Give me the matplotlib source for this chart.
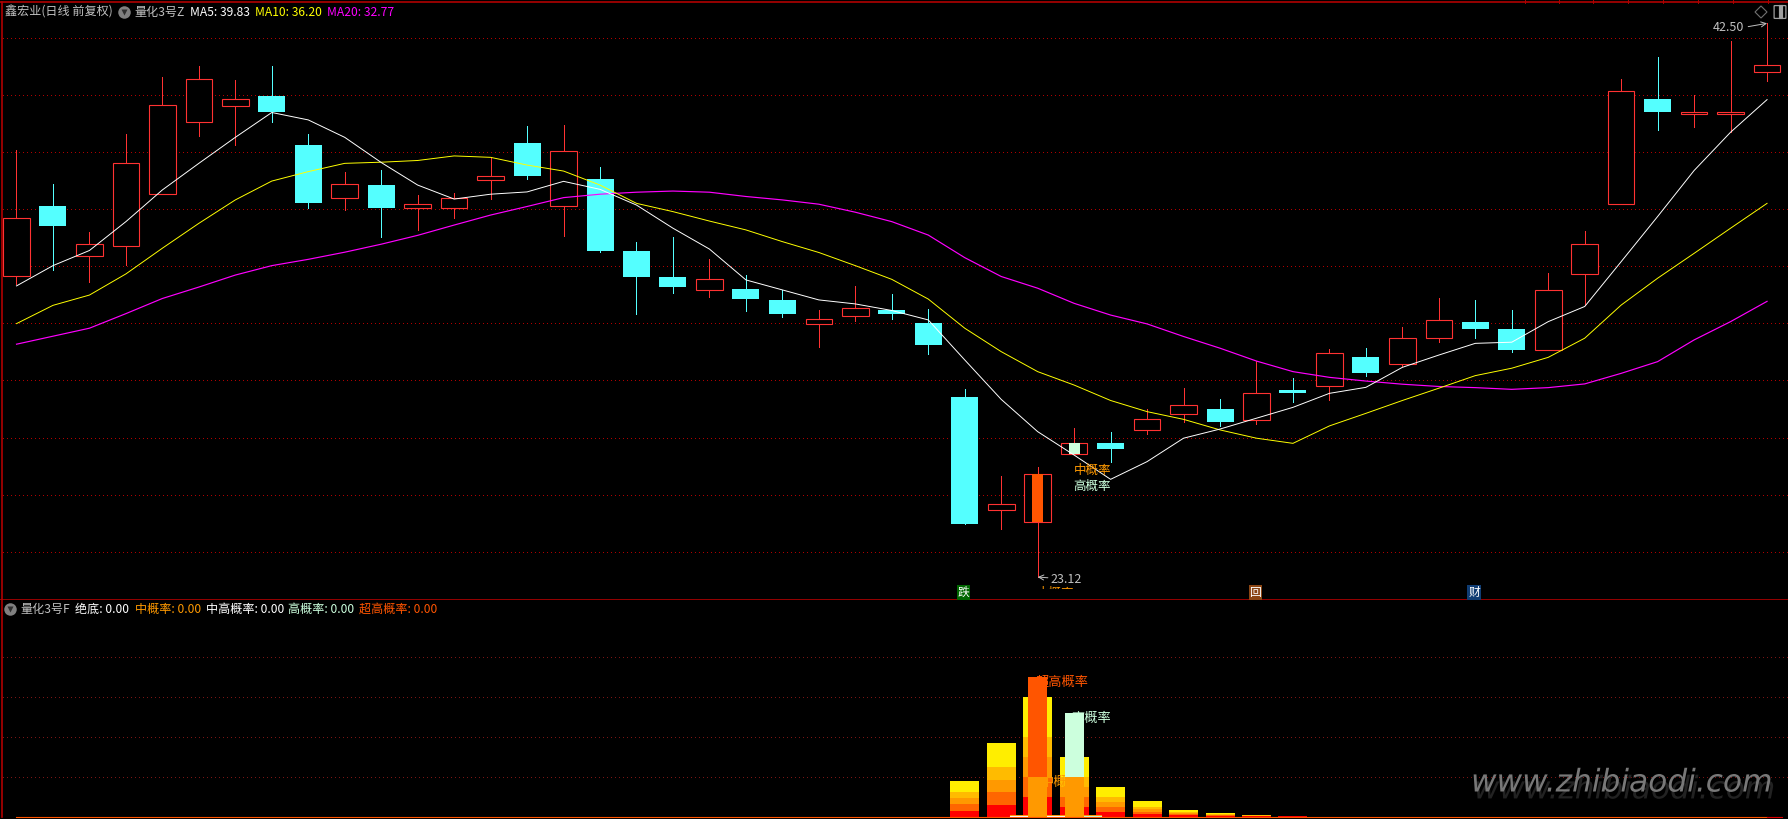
import numpy as np
import matplotlib
matplotlib.use('Agg')
import matplotlib.pyplot as plt
import matplotlib.patheffects as pe
from matplotlib.lines import Line2D
from matplotlib.patches import Polygon, FancyBboxPatch
from matplotlib.transforms import Bbox

plt.rcParams['font.family'] = ['Noto Sans CJK SC', 'DejaVu Sans']

# daily candles
highs = [38.07,36.88,35.20,38.63,40.62,41.01,40.52,41.01,38.63,37.30,
         37.37,36.49,36.56,37.81,38.91,38.94,37.47,34.85,35.02,34.25,
         33.69,33.17,32.47,33.31,33.03,32.50,29.70,26.66,26.97,28.34,
         28.20,28.99,29.74,29.35,30.68,30.09,31.10,31.14,31.87,32.89,
         32.82,32.47,33.75,35.23,40.55,41.32,39.99,41.88,42.50]
opens = [33.67,36.11,34.37,34.72,36.51,39.03,39.62,39.96,38.24,36.37,
         36.84,36.02,36.02,37.03,38.31,36.12,37.05,34.53,33.62,33.18,
         33.20,32.82,31.96,32.24,32.47,32.01,29.42,25.48,25.06,27.41,
         27.81,28.28,28.81,29.00,28.61,29.67,29.82,30.82,30.59,31.47,
         32.05,31.80,31.05,33.74,36.16,39.85,39.31,39.31,40.81]
closes = [35.68,35.41,34.77,37.60,39.63,40.54,39.84,39.40,36.21,36.87,
          36.04,36.17,36.38,37.15,37.16,38.02,34.53,33.62,33.27,33.54,
          32.85,32.33,32.14,32.53,32.33,31.24,24.98,25.67,26.72,27.80,
          27.60,28.64,29.13,28.55,29.55,29.56,30.95,30.26,31.48,32.11,
          31.80,31.07,33.16,34.77,40.12,39.40,39.39,39.39,41.03]
lows = [33.38,33.85,33.45,34.04,36.51,38.56,38.24,39.05,36.04,35.97,
        35.02,35.27,35.69,36.35,37.05,35.06,34.50,32.33,33.06,32.92,
        32.43,32.22,31.17,32.08,32.15,30.93,24.98,24.80,23.12,27.41,
        27.13,28.13,28.53,28.41,28.49,29.25,29.32,30.16,30.51,31.33,
        31.49,31.00,31.05,32.64,36.16,38.77,38.87,38.70,40.48]

ma5 = [33.31,34.02,34.55,35.56,36.67,37.60,38.51,39.38,39.12,38.51,
       37.63,36.84,36.35,36.52,36.60,36.97,36.69,36.14,35.33,34.60,
       33.52,33.17,32.82,32.68,32.45,32.12,30.72,29.34,28.21,27.39,
       26.54,27.16,27.98,28.30,28.68,29.06,29.55,29.76,30.46,30.89,
       31.30,31.34,32.06,32.59,34.16,35.74,37.35,38.69,39.83]
ma10 = [31.99,32.63,32.99,33.73,34.63,35.50,36.32,36.98,37.31,37.60,
        37.64,37.70,37.86,37.81,37.54,37.33,36.84,36.20,35.91,35.58,
        35.27,34.86,34.48,34.02,33.54,32.85,31.83,31.01,30.31,29.84,
        29.30,28.91,28.64,28.27,27.98,27.80,28.41,28.85,29.30,29.73,
        30.17,30.43,30.81,31.48,32.64,33.58,34.45,35.33,36.20]
ma20 = [31.27,31.55,31.83,32.34,32.87,33.27,33.69,34.02,34.24,34.49,
        34.77,35.08,35.44,35.79,36.09,36.40,36.52,36.59,36.63,36.59,
        36.44,36.32,36.17,35.89,35.56,35.09,34.30,33.64,33.23,32.70,
        32.29,31.98,31.54,31.13,30.68,30.31,30.11,29.98,29.87,29.79,
        29.75,29.69,29.75,29.88,30.25,30.66,31.42,32.06,32.77]

price_grid = [42, 40, 38, 36, 34, 32, 30, 28, 26, 24]
osc_grid = [20, 40, 60, 80]

# lower pane, five overlapping columns per day
bar_days = [26, 27, 28, 29, 30, 31, 32, 33, 34, 35]
bar_yellow = [18.1, 36.8, 60, 30, 15, 7.6, 3.5, 2.0, 1.0, 0.5]
bar_amber = [12.1, 24.7, 40, 20, 10, 5.0, 2.4, 1.3, 0.7, 0.35]
bar_orange = [9.1, 18.6, 30, 15, 7.5, 3.8, 1.8, 1.0, 0.5, 0.25]
bar_dark = [6.05, 12.1, 20, 10, 5, 2.5, 1.2, 0.7, 0.35, 0.17]
bar_red = [3.0, 6.0, 10, 5, 2.5, 1.3, 0.6, 0.35, 0.17, 0.08]

super_day, super_value = 28, 70.2
high_day, high_value = 29, 52.0
mid_days = [28, 29]
mid_values = [20.0, 20.0]
zero_line = [0.0] * 49

# short low stubs showing between the narrow columns
stub_days = [27.5, 28.5, 29.5]
stub_upper = [0.9, 1.0, 0.6]
stub_lower = [0.4, 0.4, 0.5]
stub_colors = ['white', 'white', '#CCFFDD']

W, H = 1788, 819
RED = '#FF3232'
CYAN = '#54FFFF'
YELLOW = '#FFFF00'
MAGENTA = '#FF00FF'
GRAY = '#C0C0C0'
MID = '#FF9900'
HIGH = '#CCFFDD'
SUPER = '#FF5500'
BORDER = '#B00000'
PX = 0.7  # just under one pixel in points


def px(x, y):
    return x / W, 1 - y / H


fig = plt.figure(figsize=(W / 100, H / 100), dpi=100, facecolor='black')
ax1 = fig.add_axes([0, 1 - 600 / H, 1, 598 / H], facecolor='black')
ax2 = fig.add_axes([0, 1 - 817 / H, 1, 217 / H], facecolor='black')

xlim = (-16.5 / 36.47, (W - 16.5) / 36.47)
ax1.set_xlim(xlim)
ax2.set_xlim(xlim)
ax1.set_ylim(43.317 - 600 * 0.035, 43.317 - 2 * 0.035)
ax2.set_ylim(-0.25, 108.9)

for ax in (ax1, ax2):
    ax.set_xticks([])
    ax.set_yticks([])
    for s in ax.spines.values():
        s.set_visible(False)
    ax.spines['left'].set_visible(True)
    ax.spines['left'].set_color(BORDER)
    ax.spines['left'].set_linewidth(1.2)
    ax.spines['left'].set_position(('axes', 0.001))
ax1.spines['top'].set_visible(True)
ax1.spines['top'].set_color(BORDER)
ax1.spines['top'].set_linewidth(1.2)
ax1.spines['bottom'].set_visible(True)
ax1.spines['bottom'].set_color(BORDER)
ax1.spines['bottom'].set_linewidth(1.2)

for g in price_grid:
    ax1.plot([xlim[0] + 0.08, xlim[1]], [g, g], color='#B00000', lw=PX,
             dashes=(1, 4), dash_capstyle='butt', antialiased=False, zorder=1)
for g in osc_grid:
    ax2.plot([xlim[0] + 0.08, xlim[1]], [g, g], color='#7A1515', lw=PX,
             dashes=(1, 4), dash_capstyle='butt', antialiased=False, zorder=1)

x = np.arange(len(closes))
opens = np.array(opens)
closes = np.array(closes)
up = closes >= opens
body_top = np.maximum(opens, closes)
body_bot = np.minimum(opens, closes)

ax1.vlines(x[up], np.array(lows)[up], np.array(highs)[up], color=RED, lw=PX, antialiased=False, zorder=2)
ax1.vlines(x[~up], np.array(lows)[~up], np.array(highs)[~up], color=CYAN, lw=PX, antialiased=False, zorder=2)
ax1.bar(x[up], (body_top - body_bot)[up], bottom=body_bot[up], width=0.73,
        facecolor='black', edgecolor=RED, linewidth=0.8, zorder=3)
ax1.bar(x[~up], (body_top - body_bot)[~up], bottom=body_bot[~up], width=0.74,
        facecolor=CYAN, edgecolor=CYAN, linewidth=0, zorder=3)

# narrow signal bars over two of the bodies
ax1.bar(28, body_top[28] - body_bot[28], bottom=body_bot[28], width=0.3, color=SUPER, zorder=4)
ax1.bar(29, body_top[29] - body_bot[29], bottom=body_bot[29], width=0.3, color=HIGH, zorder=4)

ax1.plot(x, ma20, color=MAGENTA, lw=0.85, zorder=5)
ax1.plot(x, ma10, color=YELLOW, lw=0.7, zorder=5)
ax1.plot(x, ma5, color='white', lw=0.7, zorder=5)

ax1.text(29.5, 43.317 - 470 * 0.035, '中概率', color=MID, fontsize=9, ha='center', va='center', zorder=6)
ax1.text(29.5, 43.317 - 486 * 0.035, '高概率', color=HIGH, fontsize=9, ha='center', va='center', zorder=6)
cut = ax1.text(28.5, 43.317 - 593 * 0.035, '中概率', color=MID, fontsize=9, ha='center', va='center', zorder=6)
cut.set_clip_on(True)
cut.set_clip_box(Bbox([[1000, H - 589], [1120, H - 570]]))

ax1.annotate('23.12', xy=(28, 23.12), xytext=(13, -2), textcoords='offset pixels',
             color=GRAY, fontsize=9, va='center', ha='left', zorder=6,
             arrowprops=dict(arrowstyle='->', color=GRAY, lw=0.7, shrinkA=0, shrinkB=0))
ax1.annotate('42.50', xy=(48, 42.5), xytext=(-23, -4), textcoords='offset pixels',
             color=GRAY, fontsize=9, va='center', ha='right', zorder=6,
             arrowprops=dict(arrowstyle='->', color=GRAY, lw=0.7, shrinkA=1, shrinkB=0, relpos=(1, 0.5)))

icon_y = 43.317 - 592.5 * 0.035
for day, label, bg in [(26, '跌', '#006600'), (34, '回', '#8B4513'), (40, '财', '#0F3C73')]:
    ax1.text(day - 0.03, icon_y, label, color='white', fontsize=8.5, ha='center', va='center', zorder=6,
             bbox=dict(boxstyle='square,pad=0.08', facecolor=bg, edgecolor='none'))

# lower pane
ax2.text(28.62, (816.5 - 783) / 1.98, '中概率', color=MID, fontsize=9.5, ha='center', va='center', zorder=3)
ax2.text(29.47, (816.5 - 719) / 1.98, '高概率', color=HIGH, fontsize=9.5, ha='center', va='center', zorder=3)
ax2.text(28.67, (816.5 - 683) / 1.98, '超高概率', color=SUPER, fontsize=9.5, ha='center', va='center', zorder=3)

for vals, col in [(bar_yellow, '#FFEE00'), (bar_amber, '#FFBB00'), (bar_orange, '#FF9900'),
                  (bar_dark, '#FF6600'), (bar_red, '#FF0000')]:
    ax2.bar(bar_days, vals, width=0.795, color=col, linewidth=0, zorder=2)

for d, hi, lo, col in zip(stub_days, stub_upper, stub_lower, stub_colors):
    ax2.plot([d - 0.25, d + 0.25], [hi, hi], color=MID, lw=0.7, zorder=3)
    ax2.plot([d - 0.25, d + 0.25], [lo, lo], color=col, lw=0.8, zorder=3)

ax2.bar(super_day, super_value, width=0.52, color=SUPER, linewidth=0, zorder=4)
ax2.bar(high_day, high_value, width=0.52, color=HIGH, linewidth=0, zorder=4)
ax2.bar(mid_days, mid_values, width=0.52, color=MID, linewidth=0, zorder=5)

ax2.plot(x, zero_line, color=SUPER, lw=0.8, zorder=6, clip_on=False)
ax2.plot([48, 48.41], [0, 0], color='#E00000', lw=0.8, zorder=6, clip_on=False)


# header rows
def head(xp, yp, s, col):
    fx, fy = px(xp, yp)
    fig.text(fx, fy, s, color=col, fontsize=8.7, ha='left', va='center')


def chevron(xp, yp):
    fx, fy = px(xp, yp)
    fig.add_artist(Line2D([fx], [fy], marker='o', ms=9, color='#808080', mec='none', transform=fig.transFigure))
    fig.add_artist(Line2D([fx], [fy], marker='v', ms=4, color='#303030', mec='none', transform=fig.transFigure))


head(5, 12, '鑫宏业(日线 前复权)', GRAY)
chevron(124, 12)
head(134, 12, '量化3号Z', GRAY)
head(190, 12, 'MA5: 39.83', 'white')
head(255, 12, 'MA10: 36.20', YELLOW)
head(327, 12, 'MA20: 32.77', MAGENTA)

chevron(10, 609)
head(20, 609, '量化3号F', GRAY)
head(75, 609, '绝底: 0.00', 'white')
head(135, 609, '中概率: 0.00', MID)
head(206, 609, '中高概率: 0.00', 'white')
head(288, 609, '高概率: 0.00', HIGH)
head(359, 609, '超高概率: 0.00', SUPER)

# small controls in the top right corner
fig.add_artist(Polygon([px(1761, 6), px(1767, 12), px(1761, 18), px(1755, 12)], closed=True,
                       fill=False, edgecolor='#707070', lw=0.8, transform=fig.transFigure))
bx, by = px(1775, 18)
fig.add_artist(FancyBboxPatch((bx, by), 10 / W, 12 / H, boxstyle='round,pad=0.0005', fill=False,
                              edgecolor='#A0A0A0', lw=0.9, transform=fig.transFigure))
fig.add_artist(Line2D([px(1781, 0)[0]] * 2, [px(0, 7)[1], px(0, 17)[1]], color='#A0A0A0', lw=3,
                      transform=fig.transFigure))
for tick_x in [1525, 1559, 1593, 1628, 1663, 1698, 1733, 1768]:
    fig.add_artist(Line2D([tick_x / W] * 2, [1, 1 - 3 / H], color=BORDER, lw=0.7, transform=fig.transFigure))

# watermark
wx, wy = px(1471, 783)
mark = fig.text(wx, wy, 'www.zhibiaodi.com', color='#787878', fontsize=22.5,
                family='DejaVu Sans', style='oblique', ha='left', va='center')
mark.set_path_effects([pe.withSimplePatchShadow(offset=(2, -5), shadow_rgbFace='#222222', alpha=1.0)])

fig.savefig('out.png', dpi=100, facecolor='black')
